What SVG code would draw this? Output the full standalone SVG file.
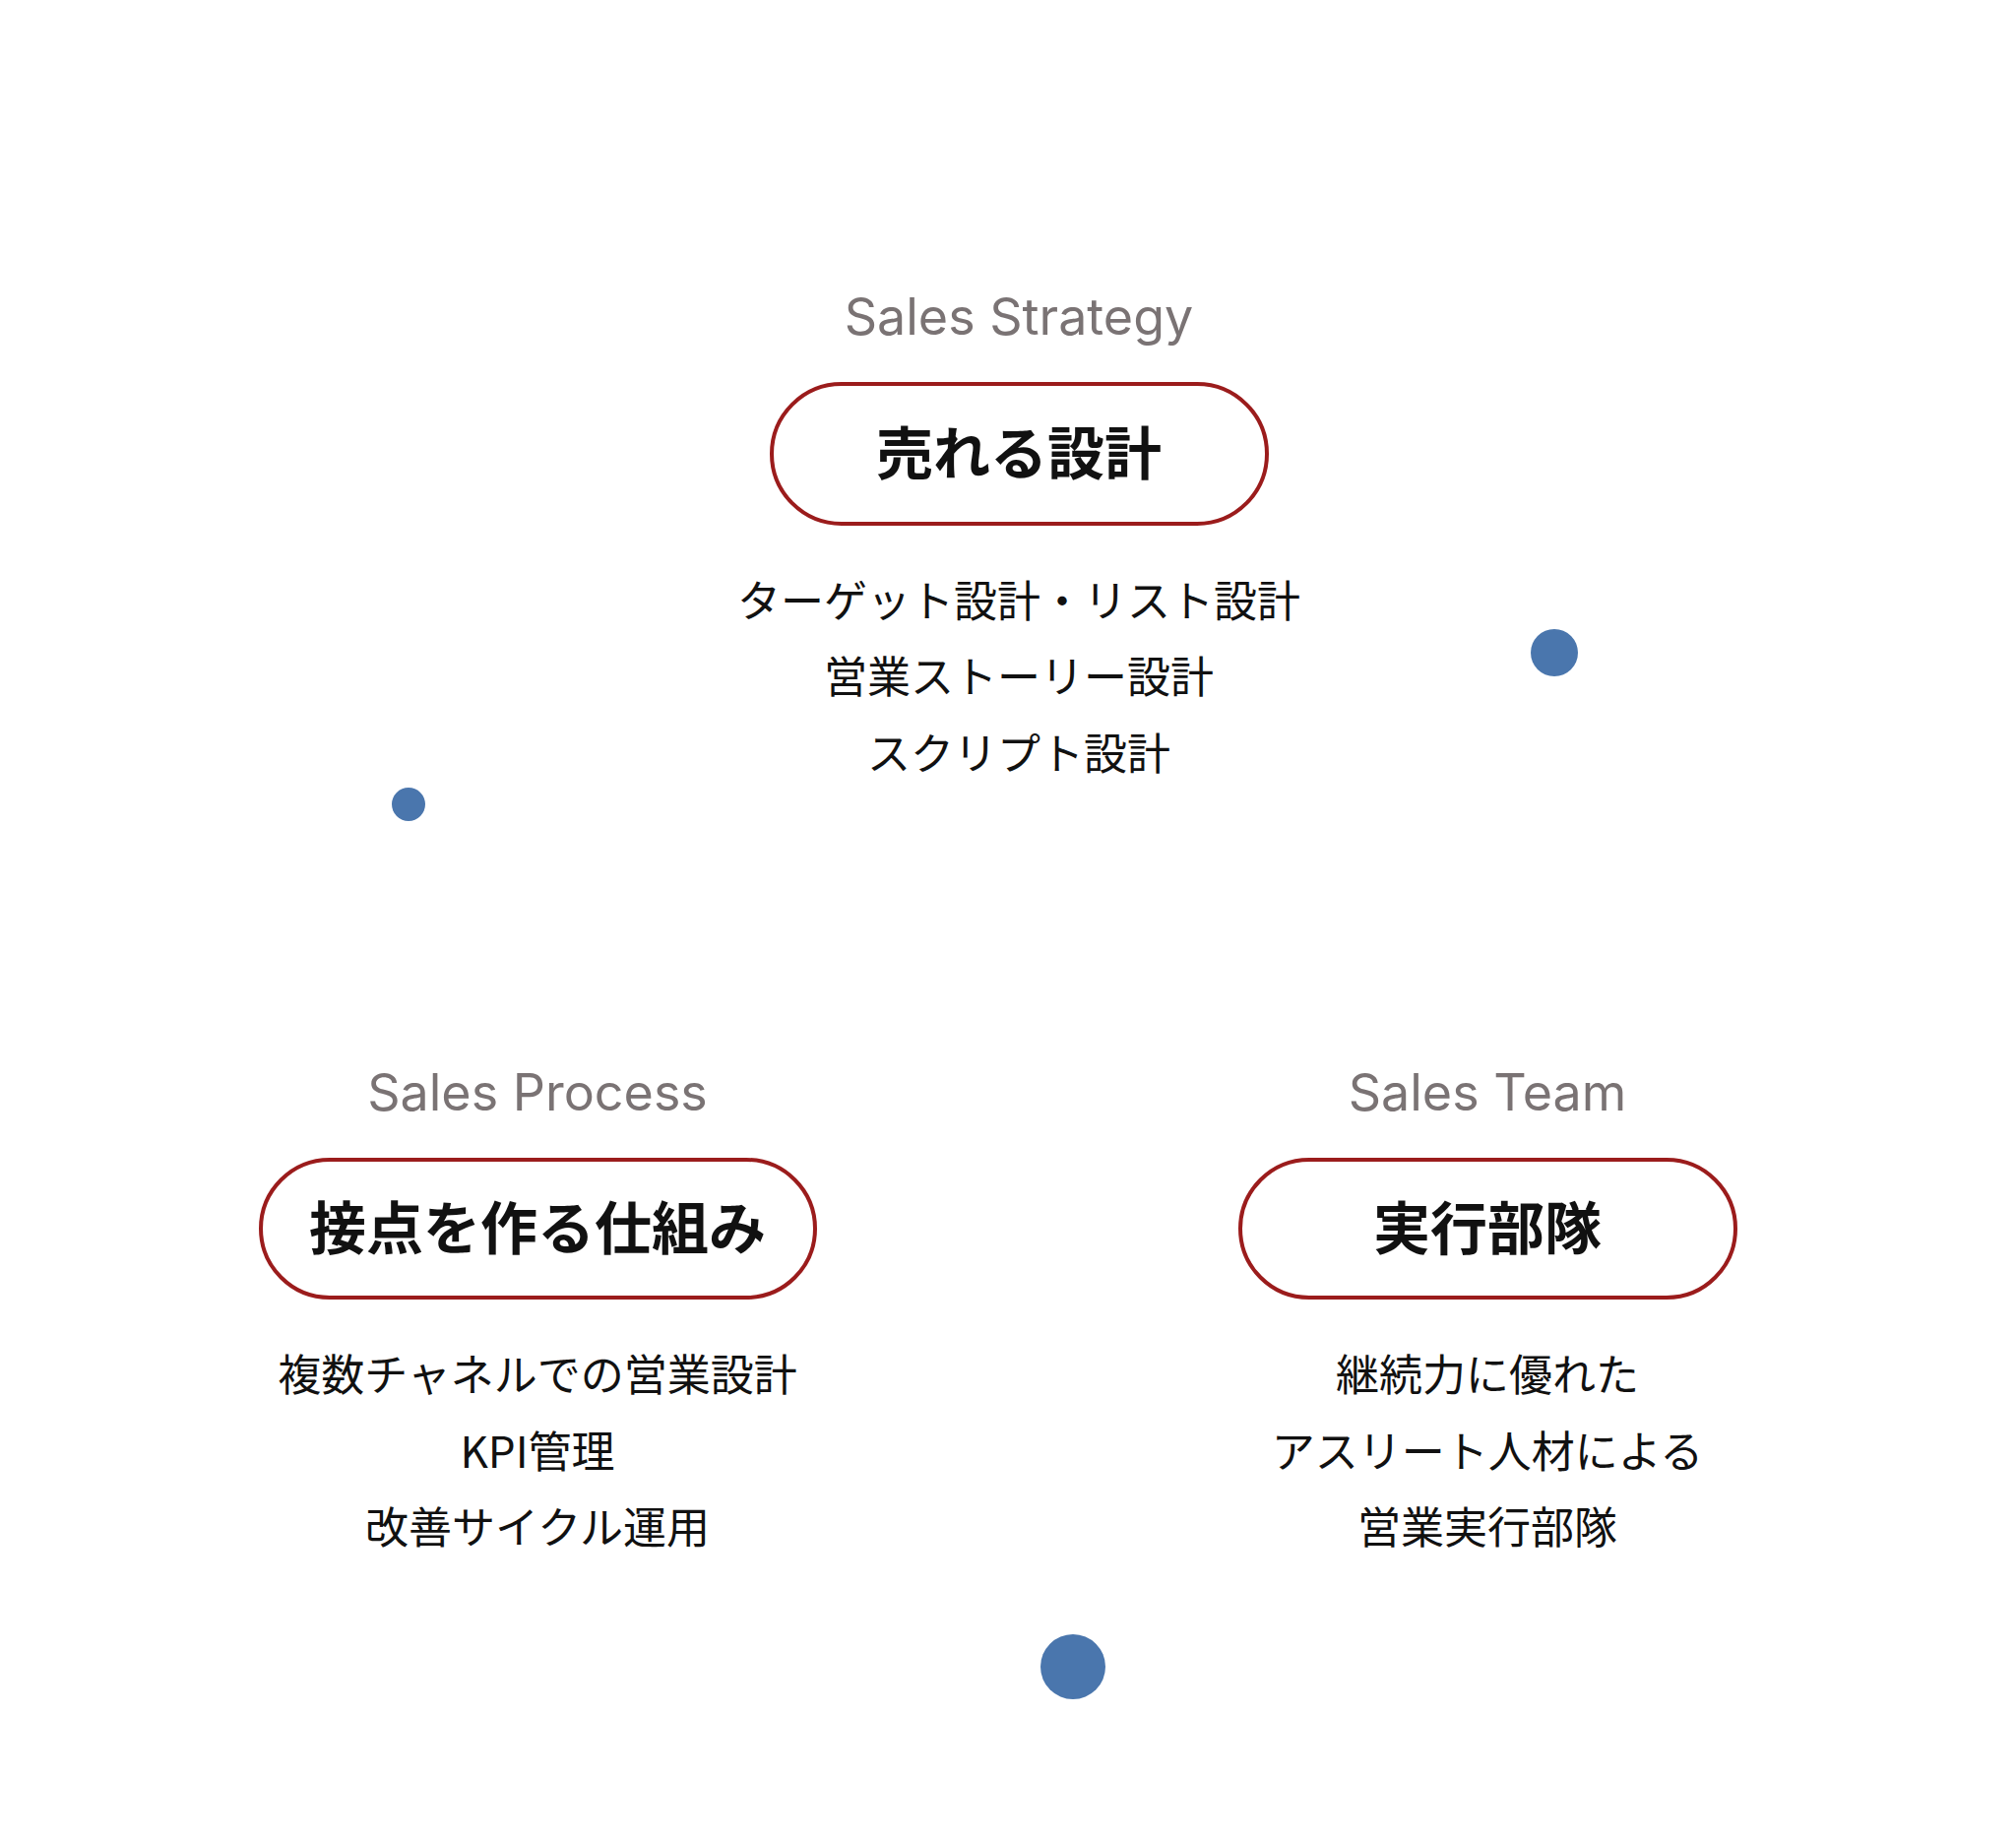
<svg xmlns="http://www.w3.org/2000/svg" width="2048" height="1870" viewBox="0 0 2048 1870">
<style>
.en{font-family:Inter,"Noto Sans CJK JP",sans-serif;font-size:52px;fill:#7a7374;text-anchor:middle}
.pill{fill:#fff;stroke:#9b1c1c;stroke-width:4}
.t{font-family:"Noto Sans CJK JP",sans-serif;font-size:58px;font-weight:bold;fill:#111;text-anchor:middle}
.d{font-family:"Noto Sans CJK JP",sans-serif;font-size:44px;fill:#111;text-anchor:middle}
.dot{fill:#4a76ad}
</style>
<rect width="2048" height="1870" fill="#fff"/>
<g id="connectors"></g>
<g id="strategy">
<text class="en" x="1035" y="340">Sales Strategy</text>
<rect class="pill" x="784" y="390" width="503" height="142" rx="71"/>
<text class="t" x="1035" y="482">売れる設計</text>
<text class="d" x="1035" y="627">ターゲット設計・リスト設計</text>
<text class="d" x="1035" y="704">営業ストーリー設計</text>
<text class="d" x="1035" y="782">スクリプト設計</text>
</g>
<g id="process">
<text class="en" x="546" y="1128">Sales Process</text>
<rect class="pill" x="265" y="1178" width="563" height="140" rx="70"/>
<text class="t" x="546" y="1269">接点を作る仕組み</text>
<text class="d" x="546" y="1413">複数チャネルでの営業設計</text>
<text class="d" x="546" y="1491">KPI管理</text>
<text class="d" x="546" y="1568">改善サイクル運用</text>
</g>
<g id="team">
<text class="en" x="1511" y="1128">Sales Team</text>
<rect class="pill" x="1260" y="1178" width="503" height="140" rx="70"/>
<text class="t" x="1511" y="1269">実行部隊</text>
<text class="d" x="1511" y="1413">継続力に優れた</text>
<text class="d" x="1511" y="1491">アスリート人材による</text>
<text class="d" x="1511" y="1568">営業実行部隊</text>
</g>
<g id="dots">
<circle class="dot" cx="1579" cy="663" r="24"/>
<circle class="dot" cx="415" cy="817" r="17"/>
<circle class="dot" cx="1090" cy="1693" r="33"/>
</g>
</svg>
